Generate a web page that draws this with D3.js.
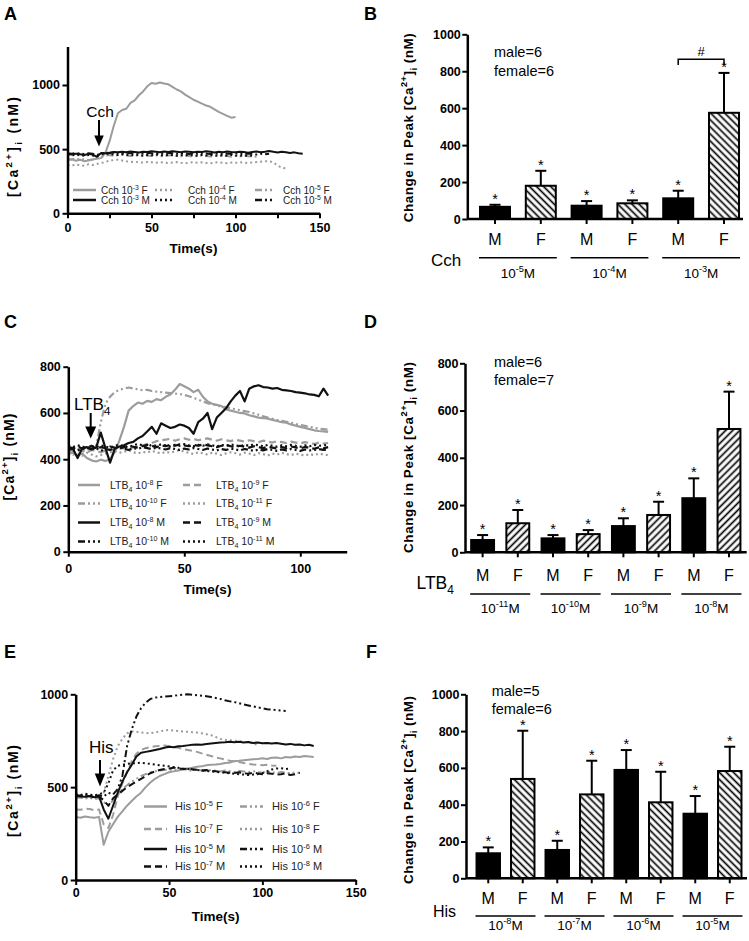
<!DOCTYPE html>
<html><head><meta charset="utf-8">
<script src="https://cdn.jsdelivr.net/npm/d3@7"></script>
<style>body{margin:0;background:#fff} svg{display:block}</style>
</head><body><script>
// ===================== DATA =====================
// Panel A: Cch traces, sampled every 2.5 s from t=0
const stepA = 2.5;
const cch3F = [415,420,410,418,405,412,420,425,430,470,560,680,780,805,815,860,880,920,950,990,1015,1010,1020,1012,1005,985,965,950,925,905,885,870,855,840,830,810,790,775,760,745,750];
const cch3M = [462,458,465,460,455,463,458,440,470,468,472,478,475,480,476,482,478,474,480,477,483,479,475,481,478,484,480,476,482,479,475,480,477,483,479,474,480,476,482,478,475,480,477,472,478,482,476,480,485,479,474,480,476,470,475,468,465];
const cch4F = [378,372,380,375,370,382,376,385,392,400,410,415,418,412,405,400,402,398,395,400,397,393,398,395,392,396,399,394,390,395,398,393,397,392,390,395,398,394,391,396,393,398,395,392,396,399,402,405,408,395,375,355,350];
const cch4M = [455,450,458,452,448,455,450,445,460,465,462,458,455,460,456,452,458,454,450,456,452,458,455,450,456,452,448,454,450,456,452,448,454,450,455,451,447,453,449,455,451,447,452,448,450];
const cch5F = [425,420,428,418,422,415,420,430,440,450,455,448,452,458,450,446,452,448,444,450,446,452,448,444,450,455,448,444,450,446,442,448,452,446,442,448,444,450,446,441,447,443,449,445,441,440];
const cch5M = [468,465,470,466,462,468,464,455,466,472,470,474,470,466,472,468,474,470,466,472,468,464,470,466,472,468,464,470,466,462,468,464,470,466,462,468,464,460,466,462,468,464,460,466,462,458,464,460,465];

// Panel C: LTB4 traces, sampled every 2 s from t=0
const stepC = 2;
const ltb8F = [420,430,415,425,405,395,390,398,392,400,430,480,540,610,630,645,640,652,648,660,655,670,680,700,725,715,705,690,700,670,650,640,635,630,615,610,605,600,598,590,585,580,578,575,570,565,560,558,550,545,540,535,530,525,522,520,518];
const ltb9F = [440,432,445,436,428,440,435,430,438,442,440,445,448,452,450,455,460,465,470,478,482,485,488,480,486,490,484,488,482,486,490,484,480,486,482,478,484,480,476,482,478,474,480,476,472,478,474,470,476,472,468,474,470,466,472,468,470];
const ltb10F = [440,435,445,438,442,445,455,560,640,670,690,700,705,710,706,702,698,700,695,692,690,688,686,684,682,678,672,665,658,650,642,638,632,628,625,620,616,612,608,604,598,592,586,580,575,570,566,562,558,552,548,544,540,536,532,530,528];
const ltb11F = [430,420,425,415,428,420,412,418,425,430,435,428,432,438,430,425,432,428,436,430,425,432,428,435,440,432,428,422,430,426,420,428,424,418,425,430,426,420,428,424,418,426,422,416,424,420,428,422,418,424,420,416,422,418,424,420,418];
const ltb8M = [450,445,405,448,452,445,450,515,448,385,445,455,460,470,475,490,500,520,540,510,555,545,535,540,550,545,535,510,560,575,600,530,580,600,620,650,675,695,650,705,715,720,712,710,705,708,700,698,695,690,688,685,680,678,672,705,675];
const ltb9M = [452,448,455,446,450,458,445,452,448,455,450,446,452,458,454,450,456,462,458,452,460,456,462,458,464,460,456,462,458,464,460,456,452,458,462,456,452,458,454,450,456,452,448,454,450,446,452,448,455,451,447,453,449,445,451,447,452];
const ltb10M = [440,446,438,444,450,442,448,436,444,440,448,452,446,440,448,444,452,448,444,450,446,442,448,444,440,446,442,448,444,440,446,442,438,444,440,446,442,438,444,440,436,442,438,444,440,436,442,438,444,440,436,442,438,440,444,440,442];
const ltb11M = [458,452,460,455,448,456,452,460,454,450,458,462,456,452,460,466,460,455,462,458,464,460,455,462,458,465,460,456,462,458,464,460,455,462,458,464,460,456,462,458,464,460,456,462,458,454,460,456,462,458,454,460,456,462,458,460,462];

// Panel E: His traces, sampled every 2.5 s from t=0
const stepE = 2.5;
const his5F = [340,335,342,338,335,340,190,260,300,340,370,400,425,450,470,500,525,545,560,570,580,585,590,595,600,605,610,612,618,620,622,625,630,632,640,642,645,648,650,652,655,652,658,660,655,662,660,665,662,668,665,662];
const his6F = [440,445,438,442,436,440,420,400,430,460,490,510,530,545,560,570,580,585,590,592,595,590,594,598,592,588,594,590,586,592,588,584,590,586,582,588,584,580,586,582,578,584,580,576,582,578,574,580,576];
const his7F = [380,378,385,382,376,380,300,280,350,450,520,580,640,680,700,710,715,720,722,725,720,715,712,705,700,695,690,682,675,668,660,655,648,642,640,635,630,626,622,620,618,620,616,615];
const his8F = [445,440,448,442,438,445,470,560,650,720,760,790,800,798,795,792,790,795,800,805,808,805,802,800,798,796,794,790,785,780,770,760,755,752,750,748,745,740,735,728];
const his5M = [455,450,448,452,446,450,380,330,400,470,530,580,620,665,685,690,695,700,705,712,718,715,720,722,725,728,730,728,732,735,738,740,742,745,742,745,740,743,738,740,736,738,735,738,734,730,733,728,730,725,728,722];
const his6M = [458,452,460,455,450,456,450,470,460,490,560,720,810,880,925,955,975,982,985,988,990,992,995,998,1000,998,995,992,990,985,980,975,968,962,958,952,945,940,935,930,925,920,918,915,912,910];
const his7M = [450,455,448,452,445,450,430,400,440,460,480,500,515,530,545,560,575,585,592,598,600,605,602,598,600,596,594,590,592,588,585,582,580,578,576,580,575,572,578,574,570,575,572,568,570,575,565,570,578];
const his8M = [462,458,465,460,455,462,470,520,590,615,620,625,628,630,632,628,625,622,618,615,612,608,604,600,598,595,592,590,588,585,582,580,578,575,572,570,568,565,568,570,575,585,595,600,602,598,600];

// Bar panels
const sexes = ["M","F"];
const cchGroups = ["10^{-5}M","10^{-4}M","10^{-3}M"];
const cchMeans = [66,180,72,85,112,575];
const cchSem = [11,81,25,16,41,216];
const ltbGroups = ["10^{-11}M","10^{-10}M","10^{-9}M","10^{-8}M"];
const ltbMeans = [52,123,59,77,111,158,229,522];
const ltbSem = [21,56,14,17,33,56,84,158];
const hisGroups = ["10^{-8}M","10^{-7}M","10^{-6}M","10^{-5}M"];
const hisMeans = [136,540,154,456,589,413,351,583];
const hisSem = [32,262,50,183,108,166,96,132];

const cchTicksY = [0,200,400,600,800,1000];
const ltbTicksY = [0,200,400,600,800];
const hisTicksY = [0,200,400,600,800,1000];

// ===================== DRAWING =====================
const FONT = "Arial, 'Liberation Sans', Helvetica, sans-serif";
const GRAY = "#9c9c9c", BLACK = "#111";
const DOT = "2,3", DASH = "7,4", DDOT = "7,3,2,3,2,3";

const svg = d3.select("body").append("svg").attr("width",749).attr("height",941)
  .attr("font-family",FONT);
svg.append("rect").attr("width",749).attr("height",941).attr("fill","#fff");
const defs = svg.append("defs");
function hatch(id, angle){
  const p = defs.append("pattern").attr("id",id).attr("patternUnits","userSpaceOnUse")
    .attr("width",5).attr("height",5).attr("patternTransform",`rotate(${angle})`);
  p.append("rect").attr("width",5).attr("height",5).attr("fill","#fff");
  p.append("line").attr("x1",2.5).attr("y1",0).attr("x2",2.5).attr("y2",5).attr("stroke","#000").attr("stroke-width",1.7);
}
hatch("hBack",-45);
hatch("hFwd",45);

function rich(sel, str, fs){
  const parts = str.split(/(\^\{[^}]*\}|_\{[^}]*\})/).filter(s=>s.length);
  let shift = 0;
  parts.forEach(p=>{
    let type="n", t=p;
    if(p.startsWith("^{")){type="sup"; t=p.slice(2,-1);}
    else if(p.startsWith("_{")){type="sub"; t=p.slice(2,-1);}
    const target = type==="sup" ? -0.4*fs : type==="sub" ? 0.3*fs : 0;
    sel.append("tspan").attr("dy",target-shift).attr("font-size",type==="n"?fs:fs*0.68).text(t);
    shift = target;
  });
  return sel;
}
function label(x,y,str,fs,opts={}){
  const t = svg.append("text").attr("x",x).attr("y",y).attr("font-size",fs)
    .attr("text-anchor",opts.anchor||"start").attr("font-weight",opts.bold?"bold":"normal")
    .attr("fill",opts.fill||"#000");
  rich(t,str,fs);
  return t;
}
function vlabel(cx,cy,str,fs,len){
  const t = svg.append("text").attr("transform",`translate(${cx},${cy}) rotate(-90)`)
    .attr("x",0).attr("y",fs*0.35).attr("text-anchor","middle").attr("font-size",fs).attr("font-weight","bold");
  if(len) t.attr("textLength",len).attr("lengthAdjust","spacing");
  rich(t,str,fs);
}
function styleAxis(a){
  a.attr("font-family",FONT);
  a.select(".domain").attr("stroke","#000").attr("stroke-width",2.5);
  a.selectAll(".tick line").attr("stroke","#000").attr("stroke-width",2);
  a.selectAll(".tick text").attr("font-size",12.5).attr("font-weight","bold").attr("fill","#000");
}
function arrow(x,y1,y2,hw,hh){
  svg.append("line").attr("x1",x).attr("x2",x).attr("y1",y1).attr("y2",y2-hh+1).attr("stroke","#000").attr("stroke-width",2);
  svg.append("path").attr("d",`M${x-hw/2},${y2-hh}L${x+hw/2},${y2-hh}L${x},${y2}Z`).attr("fill","#000");
}
const fmt = d3.format("d");

function tracePanel(c){
  const x = d3.scaleLinear().domain(c.xDom).range(c.xRange);
  const y = d3.scaleLinear().domain(c.yDom).range(c.yRange);
  const g = svg.append("g");
  c.series.forEach(s=>{
    const line = d3.line().x((d,i)=>x(i*c.step)).y(d=>y(d));
    g.append("path").datum(s.values).attr("d",line).attr("fill","none")
      .attr("stroke",s.color).attr("stroke-width",c.lw||2).attr("stroke-linejoin","round")
      .attr("stroke-dasharray",s.dash||null);
  });
  const ax = svg.append("g").attr("transform",`translate(0,${c.yRange[0]})`)
    .call(d3.axisBottom(x).tickValues(c.xTicks).tickFormat(d=>c.xLabels.includes(d)?fmt(d):"")
      .tickSize(5).tickSizeOuter(0).tickPadding(c.xPad));
  const ay = svg.append("g").attr("transform",`translate(${c.xRange[0]},0)`)
    .call(d3.axisLeft(y).tickValues(c.yTicks).tickFormat(fmt).tickSize(5).tickSizeOuter(0).tickPadding(2.5));
  styleAxis(ax); styleAxis(ay);
  // legend
  c.legend.forEach(l=>{
    const col = c.legCols[l.col], ry = c.legRows[l.row];
    svg.append("line").attr("x1",col[0]).attr("x2",col[1]).attr("y1",ry).attr("y2",ry)
      .attr("stroke",l.s.color).attr("stroke-width",2.5).attr("stroke-dasharray",l.s.dash||null);
    label(col[2], ry+c.legFs*0.36, l.text, c.legFs, {fill:"#222"});
  });
}

function barPanel(c){
  const y = d3.scaleLinear().domain([0,c.yMax]).range([c.y0,c.yTop]);
  const x = d3.scaleBand().domain(d3.range(c.means.length)).range(c.band).paddingInner(c.pad).paddingOuter(c.pad/2);
  const bw = x.bandwidth();
  const g = svg.append("g");
  // error bars
  c.means.forEach((m,i)=>{
    const cx = x(i)+bw/2, top = y(m+c.sem[i]);
    g.append("line").attr("x1",cx).attr("x2",cx).attr("y1",y(m)).attr("y2",top).attr("stroke","#000").attr("stroke-width",2);
    g.append("line").attr("x1",cx-5.5).attr("x2",cx+5.5).attr("y1",top).attr("y2",top).attr("stroke","#000").attr("stroke-width",2);
    g.append("text").attr("x",cx).attr("y",top-1).attr("text-anchor","middle").attr("font-size",14.5).text("*");
  });
  g.selectAll("rect.bar").data(c.means).join("rect").attr("class","bar")
    .attr("x",(d,i)=>x(i)).attr("y",d=>y(d)).attr("width",bw).attr("height",d=>y(0)-y(d))
    .attr("fill",(d,i)=>i%2===0?"#000":`url(#${c.hatch})`).attr("stroke","#000").attr("stroke-width",2);
  // x axis
  g.append("line").attr("x1",c.axisX).attr("x2",c.axisEnd).attr("y1",c.y0).attr("y2",c.y0).attr("stroke","#000").attr("stroke-width",2.5);
  c.means.forEach((m,i)=>{
    const cx = x(i)+bw/2;
    g.append("line").attr("x1",cx).attr("x2",cx).attr("y1",c.y0).attr("y2",c.y0+5).attr("stroke","#000").attr("stroke-width",2);
    g.append("text").attr("x",cx).attr("y",c.mfY).attr("text-anchor","middle").attr("font-size",16).text(sexes[i%2]);
  });
  const ay = svg.append("g").attr("transform",`translate(${c.axisX},0)`)
    .call(d3.axisLeft(y).tickValues(c.yTicks).tickFormat(fmt).tickSize(5).tickSizeOuter(0).tickPadding(1.5));
  styleAxis(ay);
  // groups
  c.groups.forEach((gl,k)=>{
    const a = x(2*k)-1, b = x(2*k+1)+bw+1;
    g.append("line").attr("x1",a).attr("x2",b).attr("y1",c.lineY).attr("y2",c.lineY).attr("stroke","#000").attr("stroke-width",1.5);
    label((a+b)/2, c.glY, gl, 13.5, {anchor:"middle"});
  });
  label(c.drugX, c.drugY, c.drug, c.drugFs);
  label(c.nX, c.nY[0], c.nText[0], 14.5);
  label(c.nX, c.nY[1], c.nText[1], 14.5);
  vlabel(c.titleX, c.titleY, "Change in Peak [Ca^{2+}]_{i} (nM)", 13.5, c.titleLen);
  return {x,y,bw};
}

// ---------- Panel A ----------
const sA = {
  f3:{values:cch3F,color:GRAY}, m3:{values:cch3M,color:BLACK},
  f4:{values:cch4F,color:GRAY,dash:DOT}, m4:{values:cch4M,color:BLACK,dash:DOT},
  f5:{values:cch5F,color:GRAY,dash:DDOT}, m5:{values:cch5M,color:BLACK,dash:DDOT}
};
tracePanel({
  xDom:[0,150], yDom:[0,1300], xRange:[67.5,319.5], yRange:[213.3,46.5],
  xTicks:[0,25,50,75,100,125,150], xLabels:[0,50,100,150], yTicks:[0,500,1000], xPad:4.5,
  step:stepA, series:[sA.f4,sA.f5,sA.f3,sA.m4,sA.m5,sA.m3],
  legCols:[[73,96,101],[155,172,188],[255,275,283]], legRows:[190,200], legFs:10,
  legend:[{col:0,row:0,s:sA.f3,text:"Cch 10^{-3} F"},{col:0,row:1,s:sA.m3,text:"Cch 10^{-3} M"},
          {col:1,row:0,s:sA.f4,text:"Cch 10^{-4} F"},{col:1,row:1,s:sA.m4,text:"Cch 10^{-4} M"},
          {col:2,row:0,s:sA.f5,text:"Cch 10^{-5} F"},{col:2,row:1,s:sA.m5,text:"Cch 10^{-5} M"}]
});
label(193.5,253,"Time(s)",13.5,{anchor:"middle",bold:true});
vlabel(13,147,"[Ca^{2+}]_{i} (nM)",14,100);
label(100,116.5,"Cch",15.5,{anchor:"middle"});
arrow(99,120,146.5,9.5,11);

// ---------- Panel C ----------
const sC = {
  f8:{values:ltb8F,color:GRAY}, f9:{values:ltb9F,color:GRAY,dash:DASH},
  f10:{values:ltb10F,color:GRAY,dash:DDOT}, f11:{values:ltb11F,color:GRAY,dash:DOT},
  m8:{values:ltb8M,color:BLACK}, m9:{values:ltb9M,color:BLACK,dash:DASH},
  m10:{values:ltb10M,color:BLACK,dash:DDOT}, m11:{values:ltb11M,color:BLACK,dash:DOT}
};
tracePanel({
  xDom:[0,120], yDom:[0,800], xRange:[68.3,346.7], yRange:[551.7,366.7],
  xTicks:[0,50,100], xLabels:[0,50,100], yTicks:[0,200,400,600,800], xPad:7,
  step:stepC, lw:2.2, series:[sC.f11,sC.f9,sC.f10,sC.f8,sC.m11,sC.m10,sC.m9,sC.m8],
  legCols:[[78,100,110],[183,205,216]], legRows:[485,503.5,522.5,541.5], legFs:10.5,
  legend:[{col:0,row:0,s:sC.f8,text:"LTB_{4} 10^{-8} F"},{col:1,row:0,s:sC.f9,text:"LTB_{4} 10^{-9} F"},
          {col:0,row:1,s:sC.f10,text:"LTB_{4} 10^{-10} F"},{col:1,row:1,s:sC.f11,text:"LTB_{4} 10^{-11} F"},
          {col:0,row:2,s:sC.m8,text:"LTB_{4} 10^{-8} M"},{col:1,row:2,s:sC.m9,text:"LTB_{4} 10^{-9} M"},
          {col:0,row:3,s:sC.m10,text:"LTB_{4} 10^{-10} M"},{col:1,row:3,s:sC.m11,text:"LTB_{4} 10^{-11} M"}]
});
label(207.5,594,"Time(s)",13.5,{anchor:"middle",bold:true});
vlabel(9,457,"[Ca^{2+}]_{i} (nM)",14,87);
label(74,410,"LTB_{4}",17);
arrow(90.7,413,438.5,11,12);

// ---------- Panel E ----------
const sE = {
  f5:{values:his5F,color:GRAY}, f6:{values:his6F,color:GRAY,dash:DDOT},
  f7:{values:his7F,color:GRAY,dash:DASH}, f8:{values:his8F,color:GRAY,dash:DOT},
  m5:{values:his5M,color:BLACK}, m6:{values:his6M,color:BLACK,dash:DDOT},
  m7:{values:his7M,color:BLACK,dash:DASH}, m8:{values:his8M,color:BLACK,dash:DOT}
};
tracePanel({
  xDom:[0,150], yDom:[0,1000], xRange:[75.7,355.7], yRange:[880,694.3],
  xTicks:[0,50,100,150], xLabels:[0,50,100,150], yTicks:[0,500,1000], xPad:3.5,
  step:stepE, series:[sE.f8,sE.f7,sE.f6,sE.f5,sE.m8,sE.m7,sE.m5,sE.m6],
  legCols:[[144,167,175],[240,263,272]], legRows:[806.5,829,849,866.5], legFs:11,
  legend:[{col:0,row:0,s:sE.f5,text:"His 10^{-5} F"},{col:1,row:0,s:sE.f6,text:"His 10^{-6} F"},
          {col:0,row:1,s:sE.f7,text:"His 10^{-7} F"},{col:1,row:1,s:sE.f8,text:"His 10^{-8} F"},
          {col:0,row:2,s:sE.m5,text:"His 10^{-5} M"},{col:1,row:2,s:sE.m6,text:"His 10^{-6} M"},
          {col:0,row:3,s:sE.m7,text:"His 10^{-7} M"},{col:1,row:3,s:sE.m8,text:"His 10^{-8} M"}]
});
label(215.7,921,"Time(s)",13.5,{anchor:"middle",bold:true});
vlabel(13,791,"[Ca^{2+}]_{i} (nM)",14,92);
label(101.3,753.3,"His",17,{anchor:"middle"});
arrow(100,760,786.5,10.5,13);

// ---------- Panel B ----------
const pB = barPanel({
  means:cchMeans, sem:cchSem, groups:cchGroups, yMax:1000, yTicks:cchTicksY,
  y0:219, yTop:34.3, band:[472.1,746.9], pad:0.345, axisX:467.3, axisEnd:743, hatch:"hBack",
  mfY:245, lineY:257.7, glY:277.5, drug:"Cch", drugX:431, drugY:266, drugFs:17,
  nX:494, nY:[56.5,76], nText:["male=6","female=6"], titleX:408, titleY:127.7, titleLen:189
});
// significance bracket
{
  const xa = pB.x(4)+pB.bw/2, xb = pB.x(5)+pB.bw/2;
  svg.append("path").attr("d",`M${xa},65V59.3H${xb}V65`).attr("fill","none").attr("stroke","#000").attr("stroke-width",1.5);
  svg.append("text").attr("x",(xa+xb)/2).attr("y",56).attr("text-anchor","middle").attr("font-size",13).text("#");
}

// ---------- Panel D ----------
barPanel({
  means:ltbMeans, sem:ltbSem, groups:ltbGroups, yMax:800, yTicks:ltbTicksY,
  y0:552.3, yTop:363.3, band:[465,746.6], pad:0.35, axisX:465, axisEnd:746.7, hatch:"hFwd",
  mfY:581, lineY:594, glY:612.5, drug:"LTB_{4}", drugX:416.5, drugY:589, drugFs:17.5,
  nX:494, nY:[367,385], nText:["male=6","female=7"], titleX:408, titleY:457.5, titleLen:191
});

// ---------- Panel F ----------
barPanel({
  means:hisMeans, sem:hisSem, groups:hisGroups, yMax:1000, yTicks:hisTicksY,
  y0:878.3, yTop:694.3, band:[471,747], pad:0.32, axisX:466, axisEnd:747, hatch:"hBack",
  mfY:904, lineY:916, glY:929.5, drug:"His", drugX:433, drugY:917, drugFs:16,
  nX:491.7, nY:[695.5,713.5], nText:["male=5","female=6"], titleX:408, titleY:790, titleLen:188
});

// panel letters
[["A",4,20],["B",364,20],["C",4,328],["D",364,328],["E",4,658],["F",366,658]].forEach(([t,x,y])=>{
  svg.append("text").attr("x",x).attr("y",y).attr("font-size",18).attr("font-weight","bold").text(t);
});
</script></body></html>
